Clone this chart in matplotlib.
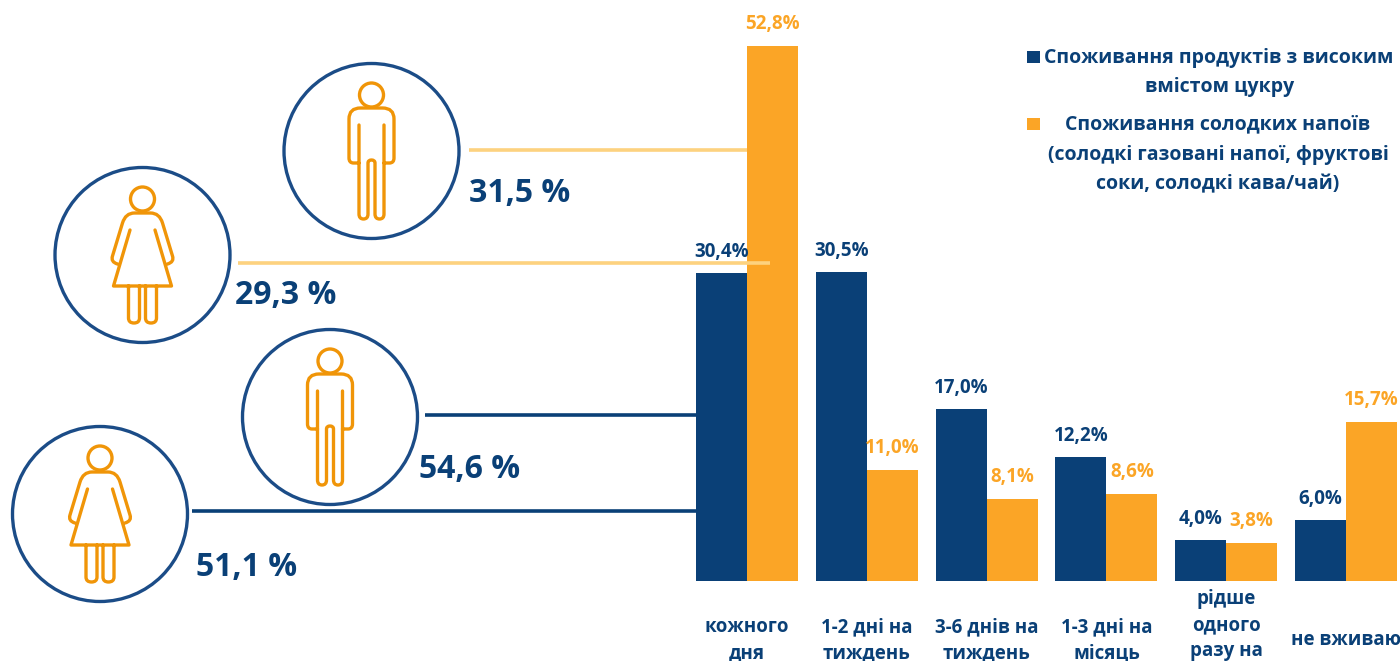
import matplotlib.pyplot as plt
from matplotlib.patches import Circle, PathPatch, Rectangle
from matplotlib.path import Path

plt.rcParams['font.family'] = ['Open Sans', 'DejaVu Sans']
plt.rcParams['font.weight'] = 'bold'

# survey data
categories = ['кожного\nдня', '1-2 дні на\nтиждень', '3-6 днів на\nтиждень',
              '1-3 дні на\nмісяць', 'рідше\nодного\nразу на', 'не вживаю']
sugar_foods = [30.4, 30.5, 17.0, 12.2, 4.0, 6.0]
sweet_drinks = [52.8, 11.0, 8.1, 8.6, 3.8, 15.7]
sugar_labels = ['30,4%', '30,5%', '17,0%', '12,2%', '4,0%', '6,0%']
drink_labels = ['52,8%', '11,0%', '8,1%', '8,6%', '3,8%', '15,7%']
share_labels = ['31,5 %', '29,3 %', '54,6 %', '51,1 %']

legend_foods = ['Споживання продуктів з високим', 'вмістом цукру']
legend_drinks = ['Споживання солодких напоїв',
                 '(солодкі газовані напої, фруктові',
                 'соки, солодкі кава/чай)']

DARK = '#0A4077'
ORANGE = '#FBA526'
ICON = '#F09508'
LIGHT = '#FDD27F'
RING = '#1B4C87'

fig = plt.figure(figsize=(14, 6.61), dpi=100)

# bar chart: baseline 80 px above the bottom edge, 10.13 px per percent, groups 119.8 px apart
ax = fig.add_axes([0, 80 / 661, 1, 581 / 661])
ax.set_xlim(-747 / 119.8, 653 / 119.8)
ax.set_ylim(0, 581 / 10.13)
ax.axis('off')

w = 51 / 119.8
x = list(range(len(categories)))
ax.bar([i - w / 2 for i in x], sugar_foods, w, color=DARK)
ax.bar([i + w / 2 for i in x], sweet_drinks, w, color=ORANGE)

for i in x:
    ax.annotate(sugar_labels[i], (i - w / 2, sugar_foods[i]), xytext=(0, 21), textcoords='offset pixels',
                ha='center', va='center', fontsize=13.5, color=DARK)
    ax.annotate(drink_labels[i], (i + w / 2, sweet_drinks[i]), xytext=(0, 22), textcoords='offset pixels',
                ha='center', va='center', fontsize=13.5, color=ORANGE)

# the three line label sits higher so its last line stays on the page
label_drop = [59, 59, 59, 59, 44, 59]
for i in x:
    ax.annotate(categories[i], (i, 0), xycoords=ax.get_xaxis_transform(),
                xytext=(0, -label_drop[i]), textcoords='offset pixels',
                ha='center', va='center', fontsize=13.5, color=DARK, linespacing=1.4,
                annotation_clip=False)

# everything else is placed in pixel coordinates on a transparent overlay
over = fig.add_axes([0, 0, 1, 1])
over.set_xlim(0, 1400)
over.set_ylim(661, 0)
over.axis('off')
over.patch.set_alpha(0)


def rounded_foot(x0, x1, top, bottom):
    # leg going down at x0, round foot, back up at x1
    mid = (x0 + x1) / 2
    return [
        (Path.LINETO, (x0, bottom - 5)),
        (Path.CURVE3, (x0, bottom)), (Path.CURVE3, (mid, bottom)),
        (Path.CURVE3, (x1, bottom)), (Path.CURVE3, (x1, bottom - 5)),
        (Path.LINETO, (x1, top)),
    ]


def man_path():
    seg = [(Path.MOVETO, (-12.5, -26))]
    seg += rounded_foot(-12.5, -3.5, 12, 68)
    seg += [(Path.CURVE3, (-3.5, 9)), (Path.CURVE3, (0, 9)),
            (Path.CURVE3, (3.5, 9)), (Path.CURVE3, (3.5, 12))]
    seg += rounded_foot(3.5, 12.5, -26, 68)
    # shoulders and arms as a second stroke
    seg += [(Path.MOVETO, (-12.5, 12)), (Path.LINETO, (-18, 12)),
            (Path.CURVE3, (-22.5, 12)), (Path.CURVE3, (-22.5, 7)),
            (Path.LINETO, (-22.5, -32)),
            (Path.CURVE3, (-22.5, -43)), (Path.CURVE3, (-11, -43)),
            (Path.LINETO, (11, -43)),
            (Path.CURVE3, (22.5, -43)), (Path.CURVE3, (22.5, -32)),
            (Path.LINETO, (22.5, 7)),
            (Path.CURVE3, (22.5, 12)), (Path.CURVE3, (18, 12)),
            (Path.LINETO, (12.5, 12))]
    return seg


def woman_path():
    # dress
    seg = [(Path.MOVETO, (-12.5, -25)), (Path.LINETO, (-29, 31)), (Path.LINETO, (29, 31)),
           (Path.LINETO, (12.5, -25))]
    # arms and shoulders
    seg += [(Path.MOVETO, (-25, 9)), (Path.CURVE3, (-32, 7)), (Path.CURVE3, (-30, 1)),
            (Path.LINETO, (-20, -32)),
            (Path.CURVE3, (-17, -42)), (Path.CURVE3, (-8, -42)),
            (Path.LINETO, (8, -42)),
            (Path.CURVE3, (17, -42)), (Path.CURVE3, (20, -32)),
            (Path.LINETO, (30, 1)),
            (Path.CURVE3, (32, 7)), (Path.CURVE3, (25, 9))]
    # legs
    for x0, x1 in [(-14, -3), (3, 14)]:
        seg += [(Path.MOVETO, (x0, 31))]
        seg += rounded_foot(x0, x1, 31, 68)
    return seg


def draw_person(cx, cy, segments):
    over.add_patch(Circle((cx, cy), 87.5, fc='white', ec=RING, lw=2.4))
    over.add_patch(Circle((cx, cy - 56), 12, fc='none', ec=ICON, lw=2.4))
    codes = [c for c, _ in segments]
    verts = [(cx + p[0], cy + p[1]) for _, p in segments]
    over.add_patch(PathPatch(Path(verts, codes), fc='none', ec=ICON, lw=2.4, capstyle='round', joinstyle='round'))


draw_person(371.5, 151, man_path())
draw_person(142.5, 255, woman_path())
draw_person(330, 417, man_path())
draw_person(100, 514, woman_path())

# connector lines to the first bar group
over.plot([469, 747], [150, 150], color=LIGHT, lw=2.6, solid_capstyle='butt')
over.plot([238, 770], [263, 263], color=LIGHT, lw=2.6, solid_capstyle='butt')
over.plot([425, 696], [415, 415], color=DARK, lw=2.6, solid_capstyle='butt')
over.plot([192, 696], [511, 511], color=DARK, lw=2.6, solid_capstyle='butt')

for (tx, ty), s in zip([(469, 194), (235, 295), (419, 470), (196, 568)], share_labels):
    over.text(tx, ty, s, ha='left', va='center', fontsize=23, color=DARK)

# legend
over.add_patch(Rectangle((1027, 51), 13, 12, fc=DARK, ec='none'))
over.add_patch(Rectangle((1027, 118), 13, 12, fc=ORANGE, ec='none'))
for tx, ty, s in zip([1219, 1220], [58, 87], legend_foods):
    over.text(tx, ty, s, ha='center', va='center', fontsize=14, color=DARK)
for ty, s in zip([124, 155, 184], legend_drinks):
    over.text(1218, ty, s, ha='center', va='center', fontsize=14, color=DARK)

fig.savefig('out.png', dpi=100)
